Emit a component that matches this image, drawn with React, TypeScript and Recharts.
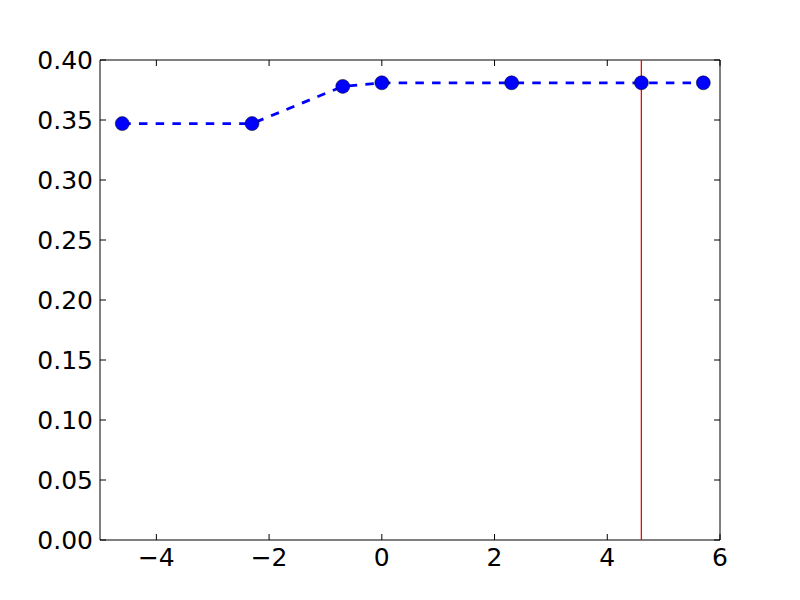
import React from 'react';
import { ComposedChart, Line, XAxis, YAxis, ReferenceLine } from 'recharts';

const xValues = [-4.605, -2.303, -0.693, 0, 2.303, 4.605, 5.704];
const yValues = [0.347, 0.347, 0.378, 0.381, 0.381, 0.381, 0.381];
const xTicks = [-4, -2, 0, 2, 4, 6];
const yTicks = [0, 0.05, 0.1, 0.15, 0.2, 0.25, 0.3, 0.35, 0.4];
const vLineX = 4.605;
const vLineY = [0, 0.4];

const data = xValues.map((x, i) => ({ x, y: yValues[i] }));
const vLineData = vLineY.map((y) => ({ x: vLineX, v: y }));

const W = 800;
const H = 600;
const LEFT = 100;
const RIGHT = 720;
const TOP = 60;
const BOTTOM = 540;
const FONT = 'DejaVu Sans';
const FS = 25;
const TICK = 6;

const fmtX = (v: number) => (v < 0 ? '\u2212' + Math.abs(v) : String(v));

const XTick = (props: any) => {
  const { x, payload } = props;
  return (
    <g>
      <line x1={x} y1={BOTTOM} x2={x} y2={BOTTOM - TICK} stroke="#000" strokeWidth={1} />
      <line x1={x} y1={TOP} x2={x} y2={TOP + TICK} stroke="#000" strokeWidth={1} />
      <text x={x} y={BOTTOM + 26} textAnchor="middle" fontFamily={FONT} fontSize={FS} fill="#000">
        {fmtX(payload.value)}
      </text>
    </g>
  );
};

const YTick = (props: any) => {
  const { y, payload } = props;
  return (
    <g>
      <line x1={LEFT} y1={y} x2={LEFT + TICK} y2={y} stroke="#000" strokeWidth={1} />
      <line x1={RIGHT} y1={y} x2={RIGHT - TICK} y2={y} stroke="#000" strokeWidth={1} />
      <text x={LEFT - 7} y={y + 9} textAnchor="end" fontFamily={FONT} fontSize={FS} fill="#000">
        {Number(payload.value).toFixed(2)}
      </text>
    </g>
  );
};

const Dot = (props: any) => {
  const { cx, cy } = props;
  if (cx == null || cy == null) return null;
  return <circle cx={cx} cy={cy} r={7} fill="#0000ff" stroke="#000" strokeWidth={0.5} />;
};

export default function App() {
  return (
    <div style={{ position: 'absolute', left: 0, top: 0, width: W, height: H, background: '#fff' }}>
      <ComposedChart
        width={W}
        height={H}
        data={data}
        margin={{ top: TOP, right: W - RIGHT, bottom: 0, left: 0 }}
      >
        <XAxis
          dataKey="x"
          type="number"
          domain={[-5, 6]}
          ticks={xTicks}
          height={H - BOTTOM}
          axisLine={false}
          tickLine={false}
          tick={<XTick />}
          interval={0}
          allowDataOverflow
        />
        <YAxis
          type="number"
          domain={[0, 0.4]}
          ticks={yTicks}
          width={LEFT}
          axisLine={false}
          tickLine={false}
          tick={<YTick />}
          interval={0}
          allowDataOverflow
        />
        <ReferenceLine x={-5} stroke="#000" strokeWidth={1} />
        <ReferenceLine x={6} stroke="#000" strokeWidth={1} />
        <ReferenceLine y={0} stroke="#000" strokeWidth={1} />
        <ReferenceLine y={0.4} stroke="#000" strokeWidth={1} />
        <Line
          dataKey="y"
          stroke="#0000ff"
          strokeWidth={2.8}
          strokeDasharray="8.5 8.2"
          dot={<Dot />}
          activeDot={false}
          isAnimationActive={false}
          type="linear"
        />
        <Line
          data={vLineData}
          dataKey="v"
          stroke="#ff0000"
          strokeWidth={1.3}
          dot={false}
          activeDot={false}
          isAnimationActive={false}
          type="linear"
        />
      </ComposedChart>
    </div>
  );
}
